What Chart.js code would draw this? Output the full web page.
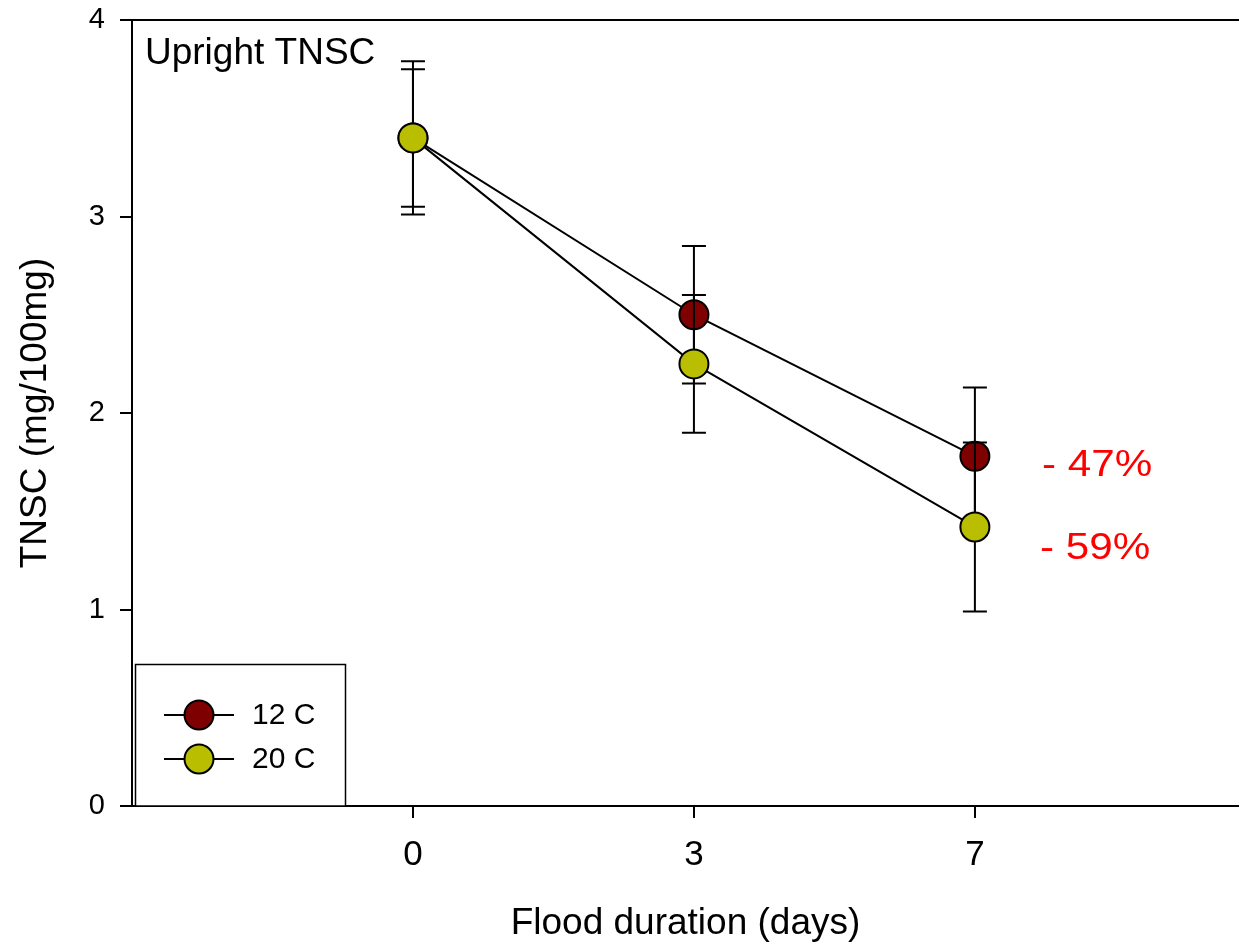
<!DOCTYPE html>
<html>
<head>
<meta charset="utf-8">
<script src="https://cdn.jsdelivr.net/npm/chart.js@4"></script>
<style>
    html, body { margin: 0; padding: 0; background: #fff; overflow: hidden; }
    #wrap { width: 1239px; height: 949px; position: relative; }
    canvas { display: block; }
</style>
</head>
<body>
<div id="wrap"><canvas id="tnscChart"></canvas></div>
<script>
// values
const days = ['0', '3', '7'];
const tnsc12 = [3.40, 2.50, 1.78];
const err12 = [0.39, 0.35, 0.35];
const tnsc20 = [3.40, 2.25, 1.42];
const err20 = [0.35, 0.35, 0.43];
const seriesNames = ['12 C', '20 C'];
const seriesColors = ['#7f0000', '#b9be00'];
const drops = ['- 47%', '- 59%'];

const FONT = '"Liberation Sans", Arial, sans-serif';

const toPoints = (vals) => vals.map((v, i) => ({ x: i, y: v }));

// error bars go under their own markers
const errorBars = {
    id: 'errorBars',
    beforeDatasetDraw(chart, args) {
        const ds = chart.data.datasets[args.index];
        const x = chart.scales.x, y = chart.scales.y;
        const ctx = chart.ctx;
        ctx.save();
        ctx.strokeStyle = '#000';
        ctx.lineWidth = 2;
        ds.data.forEach((p, i) => {
            const e = ds.errors[i];
            const px = x.getPixelForValue(p.x);
            const top = y.getPixelForValue(p.y + e);
            const bot = y.getPixelForValue(p.y - e);
            ctx.beginPath();
            ctx.moveTo(px, top); ctx.lineTo(px, bot);
            ctx.moveTo(px - 12, top); ctx.lineTo(px + 12, top);
            ctx.moveTo(px - 12, bot); ctx.lineTo(px + 12, bot);
            ctx.stroke();
        });
        ctx.restore();
    }
};

const extras = {
    id: 'extras',
    afterDraw(chart) {
        const ctx = chart.ctx;
        const a = chart.chartArea;
        const y = chart.scales.y;
        ctx.save();
        // top frame line
        ctx.strokeStyle = '#000';
        ctx.lineWidth = 2;
        ctx.beginPath();
        ctx.moveTo(a.left - 12, a.top); ctx.lineTo(a.right, a.top);
        ctx.stroke();

        // panel label
        ctx.fillStyle = '#000';
        ctx.font = '37px ' + FONT;
        ctx.textBaseline = 'alphabetic';
        ctx.fillText('Upright TNSC', a.left + 13, a.top + 43.5);

        // percent changes, next to the day 7 points
        ctx.fillStyle = '#ff0000';
        ctx.font = '37px ' + FONT;
        const last = days.length - 1;
        [tnsc12[last], tnsc20[last]].forEach((v, i) => {
            ctx.save();
            ctx.translate(1042 - i * 2, y.getPixelForValue(v) + 20 + i * 12);
            ctx.scale(1.14, 1);
            ctx.fillText(drops[i], 0, 0);
            ctx.restore();
        });

        // legend box
        const bx = a.left + 3.5, by = 664.5, bw = 210, bh = a.bottom - 664.5;
        ctx.fillStyle = '#fff';
        ctx.fillRect(bx, by, bw, bh);
        ctx.strokeStyle = '#000';
        ctx.lineWidth = 1.5;
        ctx.strokeRect(bx, by, bw, bh);
        seriesNames.forEach((name, i) => {
            const ly = 715 + i * 44;
            ctx.strokeStyle = '#000';
            ctx.lineWidth = 2;
            ctx.beginPath();
            ctx.moveTo(164, ly); ctx.lineTo(234, ly);
            ctx.stroke();
            ctx.beginPath();
            ctx.arc(199, ly, 14.5, 0, Math.PI * 2);
            ctx.fillStyle = seriesColors[i];
            ctx.fill();
            ctx.stroke();
            ctx.fillStyle = '#000';
            ctx.font = '30px ' + FONT;
            ctx.textBaseline = 'middle';
            ctx.fillText(name, 252, ly + 1);
        });
        ctx.restore();
    }
};

const lineStyle = (i) => ({
    borderColor: '#000',
    borderWidth: 2,
    pointRadius: 14.5,
    pointHoverRadius: 14.5,
    pointBorderWidth: 2,
    pointBorderColor: '#000',
    pointBackgroundColor: seriesColors[i],
    tension: 0,
    clip: false
});

new Chart(document.getElementById('tnscChart'), {
    type: 'line',
    data: {
        datasets: [
            { label: seriesNames[0], data: toPoints(tnsc12), errors: err12, order: 2, ...lineStyle(0) },
            { label: seriesNames[1], data: toPoints(tnsc20), errors: err20, order: 1, ...lineStyle(1) }
        ]
    },
    options: {
        responsive: true,
        maintainAspectRatio: false,
        animation: false,
        layout: { autoPadding: false, padding: { top: 20, right: 0, left: 0, bottom: 0 } },
        plugins: {
            legend: { display: false },
            tooltip: { enabled: false }
        },
        scales: {
            x: {
                type: 'linear',
                min: -1,
                max: 2.94,
                afterFit: (s) => { s.height = 143; },
                afterBuildTicks: (s) => { s.ticks = days.map((d, i) => ({ value: i })); },
                ticks: {
                    color: '#000',
                    padding: 16,
                    font: { family: FONT, size: 35 },
                    callback: (v) => days[v]
                },
                grid: { drawOnChartArea: false, drawTicks: true, tickLength: 12, color: '#000', lineWidth: 2 },
                border: { display: true, color: '#000', width: 2 },
                title: {
                    display: true,
                    text: 'Flood duration (days)',
                    color: '#000',
                    font: { family: FONT, size: 37, lineHeight: 1 },
                    padding: { top: 0, bottom: 7 }
                }
            },
            y: {
                min: 0,
                max: 4,
                afterFit: (s) => { s.width = 132; s.paddingTop = 0; s.paddingBottom = 0; },
                ticks: {
                    stepSize: 1,
                    color: '#000',
                    padding: 15,
                    font: { family: FONT, size: 29 }
                },
                grid: { drawOnChartArea: false, drawTicks: true, tickLength: 12, color: '#000', lineWidth: 2 },
                border: { display: true, color: '#000', width: 2 },
                title: {
                    display: true,
                    text: 'TNSC (mg/100mg)',
                    color: '#000',
                    font: { family: FONT, size: 37 },
                    padding: { top: 14, bottom: 0 }
                }
            }
        }
    },
    plugins: [errorBars, extras]
});
</script>
</body>
</html>
